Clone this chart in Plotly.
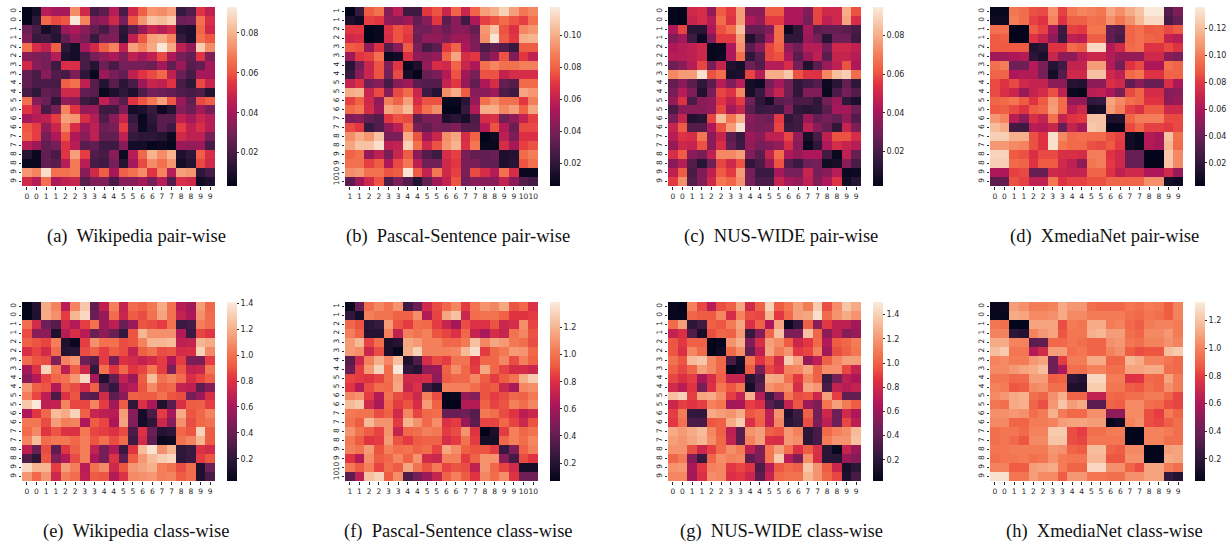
import plotly.graph_objects as go

W, H = 1227, 542

labels_0_9 = [str(i // 2) for i in range(20)]
labels_1_10 = [str(i // 2 + 1) for i in range(20)]

# Pair-wise panels: thousandths. Class-wise panels: hundredths.
wiki_pair = [
[3,9,44,40,40,72,50,20,25,44,20,50,62,74,72,76,16,22,54,46],
[3,14,64,58,60,92,70,33,36,50,30,60,74,84,82,86,28,30,66,52],
[28,20,8,14,38,42,34,26,20,30,14,24,36,48,44,50,12,10,64,50],
[32,16,18,12,26,36,30,16,30,32,12,46,60,76,78,70,16,10,66,60],
[66,52,46,62,14,8,40,50,62,70,46,76,70,78,92,78,46,36,86,72],
[34,32,30,44,10,8,20,30,36,42,32,46,40,46,58,42,30,26,54,32],
[50,34,30,18,52,52,20,12,28,20,30,30,30,28,40,26,38,24,26,40],
[26,20,34,22,20,32,14,5,38,30,26,46,54,58,64,46,28,20,40,40],
[26,20,20,20,62,66,46,24,12,24,13,20,38,48,46,54,20,14,58,48],
[20,14,26,24,50,50,26,24,5,10,14,10,22,30,28,26,22,20,22,12],
[66,34,28,14,36,34,18,14,46,34,24,54,60,68,76,60,38,26,58,62],
[54,46,20,30,70,54,36,38,18,18,32,8,10,16,6,12,34,28,40,30],
[40,44,46,56,76,74,52,44,22,34,48,16,5,14,24,24,46,40,48,44],
[60,56,36,48,70,52,38,46,28,30,56,20,6,12,24,18,56,46,52,44],
[62,56,30,42,60,42,34,46,26,26,46,16,14,14,12,6,50,46,46,30],
[44,38,26,30,54,44,24,26,18,18,34,8,8,4,6,4,38,36,38,20],
[12,5,26,20,54,76,56,22,20,34,6,44,64,80,72,80,10,14,62,52],
[5,5,26,24,44,68,44,20,18,30,12,40,58,72,66,74,8,12,58,50],
[74,70,90,66,66,68,34,50,62,40,62,66,72,54,70,44,76,74,14,20],
[50,44,66,42,46,48,24,32,32,20,34,34,40,30,44,22,52,50,7,10],
]
pascal_pair = [
[6,22,78,84,44,58,24,24,70,76,62,80,62,80,96,100,110,96,86,90],
[14,10,72,70,46,44,50,34,44,70,32,44,24,54,72,76,82,76,72,84],
[70,70,5,8,68,76,72,38,38,44,36,44,44,34,94,106,76,68,90,94],
[64,66,5,8,66,76,70,36,46,46,42,50,50,40,92,116,78,70,100,102],
[78,76,48,68,30,44,78,40,26,32,70,80,54,42,28,34,30,22,78,78],
[50,70,72,84,8,10,68,46,44,48,80,98,66,70,36,48,76,42,70,60],
[18,38,62,76,42,70,8,14,48,66,64,80,62,54,84,90,84,84,88,88],
[22,44,62,76,38,74,12,6,36,40,56,76,50,40,76,76,60,66,66,66],
[60,68,38,44,26,44,50,32,30,30,60,70,48,34,54,66,34,30,82,82],
[100,102,62,74,44,74,82,62,24,16,92,100,78,44,44,50,28,24,98,94],
[72,80,64,46,88,80,96,66,76,76,8,8,18,48,84,92,84,84,70,88],
[82,86,66,50,98,94,104,72,84,92,6,4,22,56,100,100,90,96,80,98],
[42,44,34,30,70,76,74,32,40,42,14,18,12,28,66,68,38,46,60,72],
[74,70,22,30,46,58,82,40,34,40,38,42,30,30,56,76,56,36,74,74],
[92,100,94,106,40,40,100,76,50,62,92,98,66,80,4,10,58,40,68,68],
[98,106,106,114,58,60,110,84,64,76,94,102,68,86,8,8,66,52,72,76],
[80,84,48,58,40,62,78,44,30,24,66,72,40,34,34,36,14,16,82,88],
[84,84,72,78,54,74,86,58,38,38,64,70,40,40,34,34,14,18,76,84],
[92,94,84,84,76,78,116,78,60,86,64,72,40,74,66,56,84,66,8,8],
[32,50,64,76,28,40,30,16,34,50,60,76,38,44,44,44,60,44,30,26],
]
nus_pair = [
[3,2,50,52,36,62,56,76,34,34,62,62,42,42,32,58,50,50,80,60],
[3,2,48,52,44,66,54,76,42,36,56,56,42,42,30,58,46,50,78,52],
[42,58,12,12,42,60,66,84,26,26,32,66,5,14,40,24,26,26,24,20],
[32,40,18,5,32,56,56,76,10,20,40,66,14,14,38,30,12,28,28,18],
[42,44,46,50,3,4,42,74,24,34,58,64,36,28,44,44,30,50,50,46],
[44,44,46,50,3,5,42,66,14,24,58,60,42,24,38,46,24,48,48,44],
[28,34,44,58,30,48,10,7,28,22,44,44,52,30,10,24,38,46,60,42],
[72,76,76,92,60,66,8,9,58,44,80,80,86,60,54,54,72,84,88,66],
[26,34,24,14,24,44,32,44,7,5,30,40,28,14,18,22,5,12,26,14],
[30,44,32,10,30,58,54,72,8,16,36,48,28,14,32,32,4,20,30,22],
[36,54,20,34,36,54,46,56,28,14,7,24,26,20,20,14,30,38,14,9],
[20,34,34,34,36,58,40,48,24,16,18,16,32,14,12,14,24,40,40,28],
[30,48,10,12,58,84,68,80,34,30,28,56,14,18,38,26,30,26,36,22],
[48,62,22,22,42,60,76,92,32,30,32,58,16,18,46,34,26,14,48,32],
[44,54,52,68,34,48,24,16,38,34,46,46,58,36,8,20,46,60,60,52],
[36,50,48,60,34,52,26,18,36,30,32,36,52,34,4,14,42,52,48,44],
[52,62,34,30,46,72,72,76,32,24,48,66,42,36,42,42,18,4,46,26],
[34,44,22,12,28,58,50,60,14,20,38,60,22,16,28,30,6,8,34,20],
[46,62,20,32,46,62,56,76,30,16,16,40,30,30,48,30,34,44,4,5],
[56,74,22,32,50,68,64,74,30,20,20,48,40,36,46,32,42,54,6,12],
]
xmedia_pair = [
[5,5,98,95,86,84,105,82,98,102,100,98,112,105,114,122,135,135,32,45],
[7,7,100,95,82,78,102,78,90,90,96,95,106,98,106,118,130,130,28,38],
[96,96,3,3,88,82,58,24,82,80,98,98,36,32,92,96,88,90,84,88],
[88,90,3,3,78,68,50,22,66,64,90,90,36,28,92,96,92,90,68,64],
[88,88,88,88,14,18,78,78,94,90,130,130,62,72,94,96,78,78,84,78],
[56,56,60,62,18,12,70,50,50,64,70,70,62,52,52,52,72,72,50,44],
[96,100,40,40,62,44,16,25,68,68,110,110,62,42,78,84,60,60,96,92],
[92,92,60,62,62,42,10,32,72,72,122,122,72,66,94,98,78,78,92,92],
[84,78,84,72,68,68,50,50,16,14,50,50,76,72,36,48,38,38,76,60],
[84,76,70,54,68,74,86,66,6,4,64,66,60,44,84,92,74,74,48,50],
[92,94,98,88,78,88,108,94,52,52,20,22,112,104,96,92,78,78,50,54],
[88,90,84,78,88,92,110,94,64,72,8,10,110,100,82,76,88,88,72,72],
[108,102,64,50,76,68,96,68,78,80,122,122,12,14,92,100,100,100,84,84],
[120,114,26,24,64,62,70,38,68,58,124,122,4,4,84,92,82,82,80,84],
[126,126,116,116,86,78,132,104,94,96,94,94,86,82,8,4,62,58,122,96],
[108,108,104,102,86,78,132,98,94,94,86,84,88,80,8,4,62,58,118,94],
[128,128,88,86,76,84,84,76,76,74,100,100,78,72,38,38,3,3,124,104],
[126,126,94,92,78,88,88,72,66,50,98,100,80,72,38,38,3,3,122,104],
[60,60,82,84,38,38,72,70,68,68,92,92,78,66,72,72,60,60,72,54],
[34,36,86,82,66,66,98,78,82,82,86,86,92,92,92,92,106,106,10,7],
]
wiki_class = [
[3,16,118,106,66,106,128,38,68,104,70,98,94,102,118,100,66,58,114,96],
[3,14,118,110,84,122,134,40,56,98,72,92,88,100,116,100,70,62,110,98],
[98,76,42,34,74,64,84,100,56,68,40,56,90,88,84,100,24,28,104,98],
[88,50,52,14,66,78,66,40,52,40,22,90,122,110,110,110,64,24,86,82],
[94,90,86,104,14,6,84,110,100,100,88,90,106,122,122,124,68,70,122,118],
[78,86,76,98,16,18,88,94,84,92,88,70,94,100,88,90,76,78,132,108],
[98,90,88,48,106,112,42,34,84,44,80,76,70,76,84,62,84,46,46,84],
[60,80,132,102,68,94,74,22,100,82,96,82,86,102,84,46,90,70,72,102],
[50,64,86,96,100,112,134,60,14,38,70,56,92,124,100,106,98,78,86,94],
[112,94,90,64,94,88,76,94,36,22,60,66,90,108,94,96,70,68,36,50],
[104,86,68,30,80,90,36,34,76,36,50,94,92,92,100,90,88,44,56,78],
[128,140,68,70,106,86,86,106,84,58,92,20,80,62,14,34,78,92,94,84],
[62,82,96,124,118,132,94,72,68,66,114,50,10,30,84,60,118,90,96,106],
[102,102,88,114,104,106,62,92,86,62,116,48,10,20,74,50,110,88,96,100],
[98,108,82,90,80,80,102,86,84,80,88,30,80,40,16,20,96,90,132,92],
[106,124,98,102,102,96,104,90,100,88,98,26,76,36,6,8,100,106,122,92],
[68,40,88,36,82,94,104,70,44,64,24,82,124,138,110,122,20,24,80,76],
[32,20,90,48,64,88,104,62,44,80,36,92,112,124,130,134,20,24,84,90],
[134,122,122,84,114,104,66,100,108,74,90,112,116,120,104,100,88,98,14,42],
[112,96,112,74,104,98,68,92,90,64,80,108,110,112,104,106,92,98,14,30],
]
pascal_class = [
[10,40,98,106,100,110,28,42,76,88,96,106,84,100,110,106,116,90,96,80],
[24,14,104,100,100,94,94,108,66,86,116,124,74,98,100,100,94,82,82,84],
[96,90,22,26,112,90,84,98,96,84,72,60,88,80,80,90,74,78,108,86],
[104,94,20,20,104,70,104,100,104,90,86,80,96,72,62,78,72,100,106,90],
[112,122,86,98,16,20,116,112,104,104,96,96,102,124,106,116,112,102,98,88],
[112,108,74,88,16,8,118,130,104,104,104,106,122,134,84,96,102,112,110,96],
[36,74,104,118,106,124,18,34,78,88,84,100,100,82,96,96,106,88,104,94],
[42,84,112,130,98,138,24,20,54,58,94,108,96,84,116,96,86,78,78,74],
[86,84,82,86,98,114,76,76,78,54,92,96,96,106,92,84,92,100,118,128],
[82,66,88,98,96,116,72,80,28,18,104,104,104,98,90,92,74,62,106,108],
[106,110,84,66,100,88,84,74,104,88,8,10,56,50,90,84,88,96,94,102],
[122,126,76,62,96,84,90,78,112,94,7,7,66,66,94,86,90,104,98,106],
[102,100,100,88,94,76,106,86,96,98,42,42,44,36,102,98,88,82,68,74],
[100,92,122,110,110,84,120,110,96,108,80,84,58,38,86,86,96,86,74,90],
[110,100,92,86,110,72,96,98,104,102,84,88,110,82,7,16,84,104,96,100],
[102,92,82,84,112,90,84,92,94,94,78,84,100,84,14,14,96,104,98,106],
[104,100,112,90,104,98,100,94,98,86,116,108,94,90,90,84,26,50,94,104],
[82,66,108,92,96,106,94,110,76,74,104,104,84,94,110,110,52,30,88,82],
[102,92,104,86,98,92,116,100,90,102,86,90,88,70,110,96,86,76,14,14],
[38,68,124,130,92,108,34,46,58,72,94,104,92,82,106,98,108,82,44,44],
]
nus_class = [
[5,3,112,92,70,94,100,124,80,100,140,98,108,122,110,138,94,116,136,126],
[5,4,102,98,98,114,82,112,94,92,130,88,104,122,124,146,104,118,126,118],
[104,122,20,28,100,96,110,124,84,100,66,124,6,22,100,54,88,72,72,62],
[74,84,34,12,94,102,100,120,24,52,102,134,48,50,134,102,54,72,52,58],
[96,88,100,100,3,4,118,128,50,82,122,116,98,78,88,104,68,98,102,110],
[96,84,114,104,3,8,104,116,40,72,124,110,118,88,92,112,62,94,100,108],
[106,96,132,136,114,102,30,10,108,86,100,80,138,124,58,72,100,114,122,122],
[100,92,102,122,114,102,4,9,98,46,92,84,112,114,124,100,116,116,92,76],
[92,84,90,64,82,100,76,76,18,30,126,124,106,88,114,100,24,46,72,66],
[80,70,86,46,84,108,96,108,10,36,118,112,116,82,124,120,30,74,70,74],
[134,140,90,124,126,116,90,74,128,70,26,52,108,94,96,78,122,90,40,40],
[78,90,86,90,112,108,62,64,90,84,36,26,74,96,60,50,108,122,110,98],
[90,110,22,22,126,122,118,126,96,102,72,118,14,26,100,46,78,44,80,66],
[88,106,32,30,96,100,126,138,84,100,72,114,18,24,94,48,72,44,92,72],
[126,120,126,132,114,100,72,36,118,122,100,96,120,112,20,30,104,112,116,132],
[122,118,124,130,116,102,74,36,112,122,84,82,120,116,20,30,110,118,118,134],
[118,118,94,78,90,104,116,110,72,50,108,122,106,84,98,84,20,5,76,60],
[102,110,52,24,102,116,112,114,38,50,108,138,70,50,116,82,20,18,60,52],
[118,120,64,88,112,114,88,92,86,32,70,96,104,100,136,118,98,78,12,20],
[114,114,62,84,116,114,84,88,78,38,76,104,106,106,130,118,102,92,14,30],
]
xmedia_class = [
[6,8,108,104,98,98,100,112,106,106,94,92,92,92,96,94,98,96,88,100],
[6,6,112,110,102,102,104,112,102,102,98,98,98,98,94,92,96,94,88,100],
[96,94,3,3,110,110,110,84,98,96,112,112,98,100,92,88,98,100,100,98],
[100,100,20,16,100,106,110,86,96,96,114,116,108,108,94,90,102,102,106,98],
[112,112,100,100,34,36,92,92,96,94,90,90,104,106,96,94,100,100,104,100],
[118,122,96,96,62,72,108,108,94,96,90,90,100,104,88,84,86,86,118,122],
[100,102,98,98,106,110,40,80,98,98,112,112,90,90,116,112,100,100,96,92],
[102,102,106,110,112,118,40,60,94,94,100,100,94,94,110,110,112,112,94,92],
[96,96,92,92,108,108,88,90,20,16,126,126,98,98,76,78,92,90,110,98],
[100,98,86,88,102,104,94,94,14,14,122,122,96,96,88,86,94,90,104,98],
[102,106,112,114,94,90,104,114,90,90,66,66,92,90,94,94,98,98,90,82],
[96,94,112,114,90,84,106,120,108,112,34,34,90,88,102,102,94,92,84,82],
[104,104,106,104,94,98,114,98,92,92,104,104,50,50,102,102,84,80,98,90],
[102,102,90,90,98,98,100,108,110,110,108,108,6,9,100,104,84,82,88,94],
[94,96,96,92,100,100,122,122,84,80,94,94,98,98,3,3,100,100,98,94],
[94,96,92,86,102,102,120,120,84,82,96,96,96,96,4,3,100,100,94,94],
[96,96,98,98,98,98,106,104,90,88,118,118,90,88,102,102,3,3,108,110],
[94,96,96,98,94,96,104,98,96,96,116,116,86,86,104,104,3,3,112,110],
[100,100,88,88,108,110,112,98,90,90,126,126,104,104,90,84,110,110,98,94],
[130,130,96,96,108,102,102,88,106,106,96,96,94,94,104,104,110,110,22,16],
]

rocket = [[0, "#03051a"], [1/7, "#35193e"], [2/7, "#701f57"], [3/7, "#ad1759"], [4/7, "#e13342"],
          [0.64, "#ee5a42"], [5/7, "#f37651"], [6/7, "#f6b48f"], [1, "#faebdd"]]

panels = [
 (wiki_pair, 1000, labels_0_9, .0033, .093, [.02,.04,.06,.08], ".2f", 22, 7, "(a)  Wikipedia pair-wise", 136, 236),
 (pascal_pair, 1000, labels_1_10, .0057, .1177, [.02,.04,.06,.08,.10], ".2f", 345, 7, "(b)  Pascal-Sentence pair-wise", 458, 236),
 (nus_pair, 1000, labels_0_9, .0022, .0946, [.02,.04,.06,.08], ".2f", 668, 7, "(c)  NUS-WIDE pair-wise", 781, 236),
 (xmedia_pair, 1000, labels_0_9, .0027, .1361, [.02,.04,.06,.08,.10,.12], ".2f", 990, 7, "(d)  XmediaNet pair-wise", 1104, 236),
 (wiki_class, 100, labels_0_9, .029, 1.41, [.2,.4,.6,.8,1.0,1.2,1.4], ".1f", 22, 302, "(e)  Wikipedia class-wise", 136, 531),
 (pascal_class, 100, labels_1_10, .068, 1.388, [.2,.4,.6,.8,1.0,1.2], ".1f", 345, 302, "(f)  Pascal-Sentence class-wise", 458, 531),
 (nus_class, 100, labels_0_9, .025, 1.504, [.2,.4,.6,.8,1.0,1.2,1.4], ".1f", 668, 302, "(g)  NUS-WIDE class-wise", 781, 531),
 (xmedia_class, 100, labels_0_9, .041, 1.332, [.2,.4,.6,.8,1.0,1.2], ".1f", 990, 302, "(h)  XmediaNet class-wise", 1104, 531),
]
PW, PH = 193, 179
TICK = "#262626"

fig = go.Figure()
layout = dict(width=W, height=H, margin=dict(l=0, r=0, t=0, b=0),
              paper_bgcolor="white", plot_bgcolor="white", annotations=[])
for k, (data, unit, labs, zmin, zmax, cbt, fmt, px, py, cap, cx, cy) in enumerate(panels, 1):
    z = [[v / unit for v in row] for row in data]
    fig.add_trace(go.Heatmap(z=z, x=list(range(20)), y=list(range(20)), xaxis=f"x{k}", yaxis=f"y{k}",
                             coloraxis=f"coloraxis{k}", xgap=0, ygap=0))
    common = dict(tickmode="array", tickvals=list(range(20)), ticktext=labs, ticks="outside", ticklen=2.5,
                  tickwidth=0.6, tickcolor=TICK, tickfont=dict(family="DejaVu Sans", size=7.5, color=TICK),
                  showgrid=False, zeroline=False, showline=False, automargin=False)
    layout[f"xaxis{k}"] = dict(domain=[px / W, (px + PW) / W], range=[-.5, 19.5], anchor=f"y{k}",
                               tickangle=0, **common)
    layout[f"yaxis{k}"] = dict(domain=[1 - (py + PH) / H, 1 - py / H], range=[19.5, -.5], anchor=f"x{k}",
                               tickangle=-90, **common)
    layout[f"coloraxis{k}"] = dict(
        colorscale=rocket, cmin=zmin, cmax=zmax,
        colorbar=dict(x=(px + 205) / W, xanchor="left", y=1 - (py + PH) / H, yanchor="bottom",
                      lenmode="pixels", len=PH, thicknessmode="pixels", thickness=10, outlinewidth=0,
                      ypad=0, xpad=0, ticks="outside", ticklen=2.5, tickwidth=0.6, tickcolor=TICK,
                      tickmode="array", tickvals=cbt, ticktext=[format(t, fmt) for t in cbt],
                      tickfont=dict(family="DejaVu Sans", size=8, color=TICK)))
    layout["annotations"].append(dict(text=cap, x=cx / W, y=1 - cy / H, xref="paper", yref="paper",
                                      xanchor="center", yanchor="middle", showarrow=False,
                                      font=dict(family="Liberation Serif", size=18.5, color="#111111")))
fig.update_layout(**layout)
fig.write_html("out.html", config={"displayModeBar": False}, post_script="document.body.style.margin='0';")
